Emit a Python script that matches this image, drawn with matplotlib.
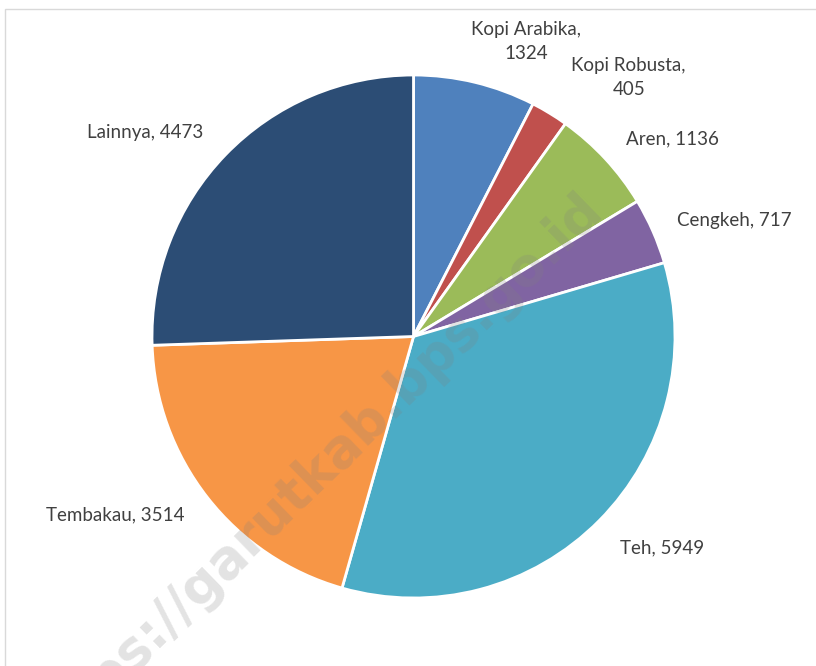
import matplotlib.pyplot as plt
import numpy as np
from matplotlib.patches import Rectangle

# data
categories = ['Kopi Arabika', 'Kopi Robusta', 'Aren', 'Cengkeh', 'Teh', 'Tembakau', 'Lainnya']
values = [1324, 405, 1136, 717, 5949, 3514, 4473]
colors = ['#4F81BD', '#C0504D', '#9BBB59', '#8064A2', '#4BACC6', '#F79646', '#2C4D75']

# label text: two-line for the small ones at the top
label_texts = ['Kopi Arabika,\n1324', 'Kopi Robusta,\n405', 'Aren, 1136', 'Cengkeh, 717',
               'Teh, 5949', 'Tembakau, 3514', 'Lainnya, 4473']
label_dist = [1.15, 1.16, 1.11, 1.10, 1.13, 1.11, 1.12]
label_dang = [2.5, 0, 0, 0, -1, 0, 0]

W, H = 816, 666
fig = plt.figure(figsize=(W / 100, H / 100), dpi=100)
ax = fig.add_axes([0, 0, 1, 1])

cx, cy, r = 413.5, H - 336.5, 261.5

wedges, _ = ax.pie(values, colors=colors, startangle=90, counterclock=False,
                   center=(cx, cy), radius=r, frame=True,
                   wedgeprops=dict(edgecolor='white', linewidth=2))
ax.set_xlim(0, W)
ax.set_ylim(0, H)
ax.axis('off')

for w, txt, d, da in zip(wedges, label_texts, label_dist, label_dang):
    ang = np.deg2rad((w.theta1 + w.theta2) / 2 + da)
    x = cx + r * d * np.cos(ang)
    y = cy + r * d * np.sin(ang)
    ha = 'left' if np.cos(ang) >= 0 else 'right'
    ax.text(x, y, txt, ha=ha, va='center', multialignment='center',
            fontsize=13.5, color='#404040', family=['Lato', 'DejaVu Sans'],
            linespacing=1.5)

# watermark
ax.text(313, H - 474, 'https://garutkab.bps.go.id', rotation=44.2,
        rotation_mode='anchor', ha='center', va='center', fontsize=38,
        fontweight='bold', color='#808080', alpha=0.22, family='DejaVu Sans')

# chart frame (right and bottom edges fall outside the picture)
fig.patches.append(Rectangle((5, -10), W + 20, H - 5 + 10 - 4, transform=None,
                             fill=False, edgecolor='#D9D9D9', linewidth=1))

fig.savefig('out.png', dpi=100)
